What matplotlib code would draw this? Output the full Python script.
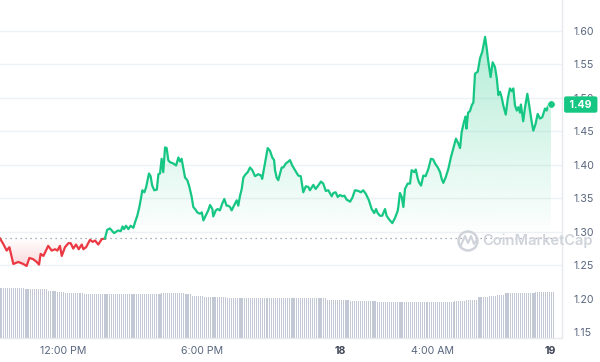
import numpy as np
import matplotlib.pyplot as plt
from matplotlib.patches import Ellipse
from matplotlib.colors import to_rgb

# price readings (hours since start, price in USD)
hours = [0.00, 0.14, 0.29, 0.41, 0.58, 0.80, 1.01, 1.16, 1.28, 1.45,
         1.60, 1.70, 1.77, 1.89, 2.10, 2.25, 2.40, 2.50, 2.61, 2.69,
         2.83, 2.98, 3.08, 3.19, 3.31, 3.43, 3.56, 3.63, 3.75, 3.92,
         4.04, 4.14, 4.28, 4.43, 4.57, 4.67, 4.79, 4.97, 5.14, 5.26,
         5.34, 5.40, 5.49, 5.59, 5.69, 5.81, 5.88, 5.98, 6.07, 6.13,
         6.20, 6.29, 6.36, 6.43, 6.49, 6.56, 6.63, 6.72, 6.83, 6.90,
         6.97, 7.04, 7.11, 7.19, 7.26, 7.33, 7.40, 7.55, 7.67, 7.77,
         7.84, 7.91, 7.98, 8.06, 8.16, 8.25, 8.35, 8.42, 8.52, 8.59,
         8.71, 8.79, 8.86, 8.96, 9.07, 9.15, 9.25, 9.29, 9.40, 9.48,
         9.58, 9.68, 9.77, 9.87, 9.94, 10.02, 10.09, 10.19, 10.31, 10.38,
         10.45, 10.53, 10.60, 10.70, 10.79, 10.89, 10.99, 11.11, 11.25, 11.37,
         11.42, 11.51, 11.59, 11.66, 11.76, 11.86, 11.94, 11.98, 12.05, 12.12,
         12.20, 12.27, 12.34, 12.45, 12.53, 12.63, 12.73, 12.85, 12.99, 13.10,
         13.21, 13.32, 13.43, 13.50, 13.65, 13.75, 13.84, 13.98, 14.08, 14.19,
         14.30, 14.45, 14.52, 14.62, 14.71, 14.81, 14.91, 15.00, 15.10, 15.25,
         15.35, 15.46, 15.61, 15.72, 15.82, 15.93, 16.07, 16.19, 16.30, 16.38,
         16.45, 16.55, 16.65, 16.77, 16.84, 16.96, 17.09, 17.21, 17.32, 17.35,
         17.42, 17.50, 17.57, 17.64, 17.76, 17.86, 17.93, 18.05, 18.11, 18.20,
         18.25, 18.34, 18.44, 18.54, 18.66, 18.77, 18.87, 18.95, 19.07, 19.17,
         19.24, 19.31, 19.41, 19.53, 19.64, 19.74, 19.86, 19.96, 20.04, 20.11,
         20.21, 20.28, 20.32, 20.39, 20.47, 20.55, 20.62, 20.69, 20.81, 20.91,
         21.01, 21.13, 21.20, 21.27, 21.37, 21.46, 21.56, 21.64, 21.71, 21.78,
         21.85, 21.92, 22.03, 22.12, 22.21, 22.29, 22.36, 22.43, 22.51, 22.58,
         22.65, 22.69, 22.79, 22.87, 22.97, 23.05, 23.16, 23.23, 23.33, 23.42,
         23.52, 23.62, 23.74, 23.81, 23.88, 24.00]
price = [1.290, 1.282, 1.272, 1.277, 1.252, 1.255, 1.252, 1.249, 1.261, 1.259,
         1.255, 1.251, 1.267, 1.264, 1.279, 1.272, 1.274, 1.272, 1.279, 1.264,
         1.277, 1.283, 1.283, 1.275, 1.281, 1.274, 1.281, 1.274, 1.277, 1.288,
         1.285, 1.287, 1.281, 1.289, 1.290, 1.303, 1.305, 1.298, 1.302, 1.301,
         1.308, 1.304, 1.309, 1.304, 1.309, 1.306, 1.314, 1.324, 1.337, 1.348,
         1.362, 1.359, 1.366, 1.377, 1.387, 1.383, 1.369, 1.362, 1.363, 1.386,
         1.387, 1.409, 1.389, 1.426, 1.425, 1.407, 1.404, 1.402, 1.399, 1.411,
         1.405, 1.409, 1.396, 1.381, 1.377, 1.367, 1.352, 1.337, 1.333, 1.329,
         1.327, 1.329, 1.317, 1.324, 1.332, 1.340, 1.334, 1.323, 1.332, 1.334,
         1.332, 1.342, 1.349, 1.339, 1.339, 1.337, 1.332, 1.339, 1.347, 1.339,
         1.353, 1.364, 1.381, 1.386, 1.389, 1.396, 1.392, 1.383, 1.386, 1.384,
         1.379, 1.396, 1.411, 1.425, 1.421, 1.411, 1.407, 1.392, 1.381, 1.377,
         1.387, 1.396, 1.396, 1.402, 1.404, 1.407, 1.399, 1.392, 1.384, 1.383,
         1.359, 1.368, 1.367, 1.362, 1.370, 1.364, 1.368, 1.375, 1.372, 1.361,
         1.362, 1.353, 1.358, 1.359, 1.352, 1.355, 1.353, 1.354, 1.348, 1.345,
         1.351, 1.362, 1.361, 1.359, 1.362, 1.357, 1.347, 1.334, 1.328, 1.334,
         1.328, 1.324, 1.324, 1.334, 1.324, 1.318, 1.313, 1.321, 1.331, 1.337,
         1.358, 1.352, 1.337, 1.364, 1.372, 1.372, 1.392, 1.389, 1.393, 1.379,
         1.374, 1.369, 1.384, 1.383, 1.394, 1.409, 1.408, 1.402, 1.396, 1.389,
         1.379, 1.373, 1.381, 1.394, 1.411, 1.424, 1.439, 1.432, 1.425, 1.449,
         1.464, 1.472, 1.454, 1.478, 1.480, 1.489, 1.493, 1.536, 1.539, 1.559,
         1.569, 1.591, 1.574, 1.554, 1.531, 1.553, 1.546, 1.529, 1.504, 1.509,
         1.501, 1.489, 1.475, 1.499, 1.514, 1.510, 1.514, 1.489, 1.481, 1.486,
         1.478, 1.490, 1.465, 1.486, 1.506, 1.489, 1.464, 1.451, 1.461, 1.476,
         1.469, 1.471, 1.484, 1.481, 1.489, 1.491]
open_price = 1.2907

# volume envelope: level per run of bars
vol_levels = [5.00, 4.92, 4.73, 4.62, 4.54, 4.42, 4.39, 4.50, 4.39, 4.23, 4.12,
              3.97, 3.85, 3.73, 3.58, 3.69, 3.85, 4.08, 4.23, 4.35, 4.47, 4.58]
vol_counts = [13, 12, 5, 4, 10, 26, 14, 12, 4, 6, 12,
              52, 12, 14, 40, 6, 6, 6, 4, 4, 16, 10]

yticks = [1.15, 1.20, 1.25, 1.30, 1.35, 1.40, 1.45, 1.50, 1.55, 1.60]
xtick_pos = [2.76, 8.80, 14.80, 18.85, 23.96]
xtick_labels = ['12:00 PM', '6:00 PM', '18', '4:00 AM', '19']

GREEN = '#16c784'
RED = '#ea3943'
GRAY = '#58667e'

plt.rcParams['font.family'] = ['Inter', 'DejaVu Sans']

hours = np.array(hours)
price = np.array(price)
split = int(np.searchsorted(hours, 4.57))

fig = plt.figure(figsize=(6, 3.62), dpi=100)
rect = [0, 24 / 362, 562 / 600, 338 / 362]
vax = fig.add_axes(rect)
ax = fig.add_axes(rect, sharex=vax)
ax.patch.set_visible(False)
vax.axis('off')

# volume bars
vol = np.repeat(vol_levels, vol_counts)
vx = np.linspace(0, 24.1, len(vol))
vax.bar(vx, vol, width=(vx[1] - vx[0]) * 0.55, color='#c3c8d5', lw=0)
vax.set_ylim(0, 33.8)


def grad_fill(x, y, base, far, color, alpha, z):
    poly = ax.fill_between(x, y, base, color='none', lw=0)
    lo, hi = min(base, far), max(base, far)
    a = np.linspace(0, alpha, 256) if far > base else np.linspace(alpha, 0, 256)
    img = np.zeros((256, 1, 4))
    img[:, :, :3] = to_rgb(color)
    img[:, 0, 3] = a
    im = ax.imshow(img, extent=[x.min(), x.max(), lo, hi], origin='lower',
                   aspect='auto', zorder=z, interpolation='bilinear')
    im.set_clip_path(poly.get_paths()[0], transform=ax.transData)


for v in yticks:
    if v >= 1.25:
        ax.axhline(v, color='#eff2f5', lw=1, zorder=0)

grad_fill(hours[:split + 1], price[:split + 1], open_price, 1.245, RED, 0.22, 1)
grad_fill(hours[split:], price[split:], open_price, 1.60, GREEN, 0.34, 1)

ax.axhline(open_price, color='#8a93a3', ls=(0, (1, 3)), lw=0.9, zorder=2)
ax.plot(hours[:split + 1], price[:split + 1], color=RED, lw=1.6,
        solid_joinstyle='round', zorder=3)
ax.plot(hours[split:], price[split:], color=GREEN, lw=1.6,
        solid_joinstyle='round', zorder=3)
ax.plot(hours[-1], price[-1], 'o', color=GREEN, ms=5.5, mec='white', mew=0.6, zorder=4)

ax.set_xlim(0, 24.48)
ax.set_ylim(1.1415, 1.646)

ax.yaxis.tick_right()
ax.set_yticks(yticks, [f'{v:.2f}' for v in yticks])
ax.set_xticks(xtick_pos, xtick_labels)
ax.tick_params(axis='y', length=0, pad=8, labelsize=7.6, labelcolor=GRAY)
ax.tick_params(axis='x', length=0, pad=6, labelsize=7.6, labelcolor=GRAY)
for t in ax.get_xticklabels():
    if t.get_text() in ('18', '19'):
        t.set_fontweight('bold')
        t.set_color('#3d4455')

for s in ['top', 'left']:
    ax.spines[s].set_visible(False)
for s in ['right', 'bottom']:
    ax.spines[s].set_color('#e6e9ee')
    ax.spines[s].set_linewidth(1)

# current price tag (covers most of the 1.50 label, as in the original)
ax.annotate(f' {price[-1]:.2f} ', xy=(1, price[-1]), xycoords=('axes fraction', 'data'),
            xytext=(13.5, -0.5), textcoords='offset points', ha='center', va='center',
            color='white', fontsize=7.6, fontweight='bold', annotation_clip=False,
            bbox=dict(boxstyle='round,pad=0.3,rounding_size=0.2', fc=GREEN, ec='none'),
            zorder=10)

# watermark
fig.add_artist(Ellipse((468 / 600, 1 - 241 / 362), 19 / 600, 19 / 362,
                       transform=fig.transFigure, fill=False, ec='#cfd3da', lw=1.8))
fig.add_artist(plt.Line2D(np.array([461, 465, 468, 471, 474, 476]) / 600,
                          1 - np.array([245, 236, 243, 236, 244, 241]) / 362,
                          transform=fig.transFigure, color='#cfd3da', lw=1.5))
fig.text(482 / 600, 1 - 241 / 362, 'CoinMarketCap', color='#cfd3da', fontsize=10.5,
         fontweight='semibold', va='center', ha='left')

fig.savefig('out.png', dpi=100)
